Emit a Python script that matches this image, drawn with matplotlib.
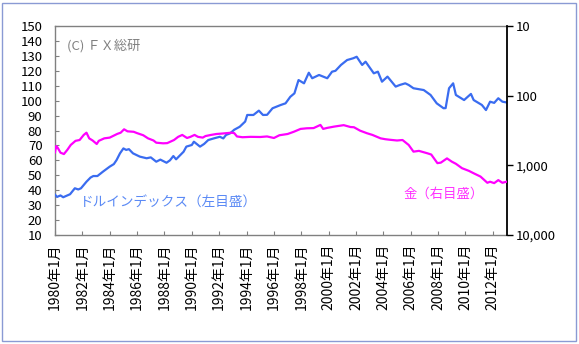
import matplotlib
matplotlib.use("Agg")
import matplotlib.pyplot as plt
from matplotlib.patches import Rectangle
from matplotlib.ticker import FixedLocator, NullLocator

plt.rcParams["font.family"] = ["Noto Sans CJK JP", "DejaVu Sans"]

# ドルインデックス (left scale)
usd_t = [1980.0, 1980.15, 1980.4, 1980.6, 1980.9, 1981.1, 1981.45, 1981.7, 1981.9,
         1982.3, 1982.6, 1982.8, 1983.1, 1983.5, 1984.0, 1984.3, 1984.5, 1984.75,
         1985.0, 1985.2, 1985.4, 1985.7, 1986.2, 1986.7, 1987.0, 1987.4, 1987.7,
         1988.15, 1988.4, 1988.65, 1988.85, 1989.4, 1989.6, 1990.0, 1990.15, 1990.6,
         1990.9, 1991.2, 1991.6, 1992.05, 1992.3, 1992.5, 1992.8, 1993.1, 1993.5,
         1993.9, 1994.05, 1994.5, 1994.9, 1995.2, 1995.5, 1995.9, 1996.5, 1996.85,
         1997.2, 1997.5, 1997.8, 1998.2, 1998.55, 1998.8, 1999.3, 1999.9, 2000.25,
         2000.5, 2000.9, 2001.35, 2001.8, 2002.05, 2002.45, 2002.7, 2003.3, 2003.6,
         2003.9, 2004.3, 2004.9, 2005.2, 2005.6, 2005.85, 2006.2, 2006.95, 2007.45,
         2007.9, 2008.4, 2008.55, 2008.8, 2009.1, 2009.3, 2009.9, 2010.4, 2010.6,
         2011.2, 2011.5, 2011.8, 2012.1, 2012.4, 2012.7, 2013.0]
usd_v = [37.0, 35.5, 36.5, 35.3, 36.5, 37.3, 41.3, 40.5, 41.3,
         45.7, 48.5, 49.5, 49.5, 52.4, 55.8, 57.5, 60.2, 64.7,
         68.0, 67.0, 67.5, 64.7, 62.5, 61.4, 62.0, 59.1, 60.5,
         58.4, 60.0, 62.9, 60.7, 65.8, 69.2, 70.3, 72.5, 69.2,
         71.0, 73.6, 74.7, 75.8, 74.7, 77.0, 78.1, 80.5, 82.5,
         86.0, 90.4, 90.4, 93.3, 90.4, 90.5, 94.9, 97.1, 98.2,
         102.6, 104.9, 113.8, 111.6, 118.7, 115.0, 117.2, 115.0, 119.4,
         120.0, 123.9, 127.2, 128.4, 129.4, 123.9, 126.1, 118.3, 119.4,
         112.7, 116.1, 109.4, 110.5, 111.6, 110.5, 108.3, 107.1, 103.8,
         98.2, 94.9, 95.0, 108.3, 111.6, 103.8, 100.4, 104.5, 100.4,
         97.1, 93.7, 99.3, 98.5, 101.6, 99.3, 98.8]

# 金 (right scale, log, inverted)
gold_t = [1980.0, 1980.08, 1980.2, 1980.4, 1980.65, 1980.9, 1981.15, 1981.5, 1981.8,
          1982.1, 1982.3, 1982.5, 1982.75, 1983.05, 1983.2, 1983.6, 1984.0, 1984.55,
          1984.8, 1985.05, 1985.3, 1985.75, 1986.0, 1986.45, 1986.8, 1987.2, 1987.4,
          1987.9, 1988.2, 1988.7, 1989.0, 1989.3, 1989.65, 1989.9, 1990.2, 1990.45,
          1990.8, 1991.0, 1991.4, 1991.8, 1992.2, 1992.9, 1993.1, 1993.3, 1993.7,
          1994.3, 1995.0, 1995.5, 1996.0, 1996.4, 1997.0, 1997.45, 1997.95, 1998.4,
          1998.9, 1999.4, 1999.6, 1999.9, 2000.4, 2001.1, 2001.6, 2001.85, 2002.3,
          2002.8, 2003.2, 2003.8, 2004.15, 2004.5, 2005.0, 2005.4, 2005.85, 2006.2,
          2006.6, 2007.2, 2007.5, 2007.95, 2008.2, 2008.65, 2009.0, 2009.3, 2009.75,
          2010.25, 2010.6, 2011.1, 2011.6, 2011.8, 2012.1, 2012.4, 2012.7, 2013.0]
gold_v = [650, 530, 560, 658, 689, 600, 510, 445, 433,
          366, 340, 410, 440, 494, 445, 410, 400, 354,
          340, 304, 325, 330, 345, 370, 410, 440, 473,
          483, 480, 433, 390, 366, 405, 390, 366, 390,
          400, 380, 366, 355, 350, 340, 345, 385, 395,
          390, 392, 385, 405, 370, 355, 330, 300, 294,
          292, 263, 300, 290, 278, 265, 282, 284, 318,
          346, 366, 410, 422, 430, 440, 433, 510, 636,
          620, 670, 700, 930, 915, 795, 885, 950, 1100,
          1200, 1300, 1450, 1780, 1720, 1800, 1630, 1780, 1720]

left_ticks = list(range(10, 151, 10))
right_ticks = [10, 100, 1000, 10000]
right_labels = ["10", "100", "1,000", "10,000"]
year_ticks = list(range(1980, 2013, 2))
year_labels = [f"{y}年1月" for y in year_ticks]

W, H = 579, 344
fig = plt.figure(figsize=(W / 100, H / 100), dpi=100)
fig.patches.append(Rectangle((2 / W, 3 / H), 574 / W, 338 / H, transform=fig.transFigure,
                             fill=False, edgecolor="#8a9ad4", linewidth=1.0))

ax = fig.add_axes([55 / W, 1 - 235 / H, (506.5 - 55) / W, (235 - 26) / H])
ax.plot(usd_t, usd_v, color="#3a6cf0", lw=1.6, zorder=3)
ax.set_xlim(1980, 2013)
ax.set_ylim(10, 150)
ax.yaxis.set_major_locator(FixedLocator(left_ticks))
ax.set_xticks(year_ticks)
ax.set_xticklabels(year_labels, rotation=90, va="top", ha="center")
for s in ("left", "top", "bottom"):
    ax.spines[s].set_color("#808080")
    ax.spines[s].set_linewidth(1.0)
ax.spines["right"].set_visible(False)
ax.tick_params(axis="y", direction="in", length=3, color="#808080", labelsize=9.5, pad=9)
ax.tick_params(axis="x", direction="in", length=3, color="#808080", labelsize=10, pad=6)

ax2 = ax.twinx()
ax2.plot(gold_t, gold_v, color="#ff00ff", lw=1.6, zorder=3)
ax2.set_yscale("log")
ax2.set_ylim(10000, 10)
ax2.yaxis.set_major_locator(FixedLocator(right_ticks))
ax2.yaxis.set_minor_locator(NullLocator())
ax2.set_yticklabels(right_labels)
for s in ("left", "top", "bottom"):
    ax2.spines[s].set_visible(False)
ax2.spines["right"].set_color("black")
ax2.spines["right"].set_linewidth(1.3)
ax2.tick_params(axis="y", direction="out", length=4, color="black", width=1.0,
                labelsize=9.5, pad=3)

ax.text(67 / W, 1 - 46 / H, "(C) ＦＸ総研", transform=fig.transFigure, fontsize=9.5,
        color="#808080", va="center", ha="left")
ax.text(80 / W, 1 - 203 / H, "ドルインデックス（左目盛）", transform=fig.transFigure,
        fontsize=9.8, color="#5b8af5", va="center", ha="left")
ax.text(403 / W, 1 - 194 / H, "金（右目盛）", transform=fig.transFigure,
        fontsize=9.6, color="#ff33ff", va="center", ha="left")

fig.savefig("out.png", dpi=100)
